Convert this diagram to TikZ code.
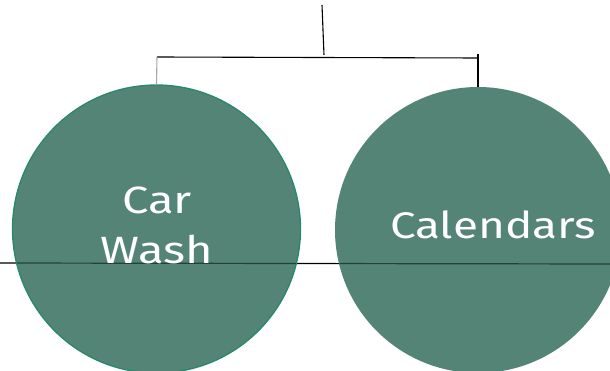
\documentclass[tikz,border=0pt]{standalone}
\usepackage{fontspec}
\setmainfont{Fira Sans}[FakeStretch=1.24]
\definecolor{bubble}{RGB}{84,132,117}
\definecolor{bubbleedge}{RGB}{40,136,108}
\definecolor{lineongreen}{RGB}{34,66,56}
\tikzset{
  bubblenode/.style={circle, fill=bubble, inner sep=0pt},
  labeltext/.style={text=white, align=center, inner sep=0pt},
  wire/.style={black, line width=1.1pt},
  greywire/.style={black!35, line width=1.1pt}
}
\begin{document}
\begin{tikzpicture}[x=1pt,y=-1pt]
\useasboundingbox (0,0) rectangle (610,371);
% horizontal line behind
\coordinate (hl) at (0,263);
\coordinate (hr) at (610,264);
\draw[wire] (hl) -- (hr);
% circles
\node[bubblenode, minimum size=288pt, draw=bubbleedge, line width=1.3pt] (car) at (156.5,229) {};
\node[bubblenode, minimum size=286pt] (cal) at (478,230) {};
% line over circles
\begin{scope}
  \clip (car.center) circle (143.5pt);
  \draw[lineongreen, line width=1.2pt] (hl) -- (hr);
\end{scope}
\begin{scope}
  \clip (cal.center) circle (142.5pt);
  \draw[lineongreen, line width=1.2pt] (hl) -- (hr);
\end{scope}
% labels
\node[labeltext, font=\fontsize{38}{50}\selectfont] (carlabel) at (157,225) {Car\\Wash};
\node[labeltext, font=\fontsize{37}{44}\selectfont] (callabel) at (493,225) {Calendars};
% bracket
\coordinate (root) at (322,5);
\coordinate (rootend) at (324,55);
\coordinate (barl) at (157,57);
\coordinate (barr) at (478,58);
\coordinate (rtop) at (478,54);
\draw[wire] (root) -- (rootend);
\draw[wire] (barl) -- (barr);
\draw[greywire] (barl) -- (car.north);
\draw[wire] (rtop) -- (cal.north);
\end{tikzpicture}
\end{document}
